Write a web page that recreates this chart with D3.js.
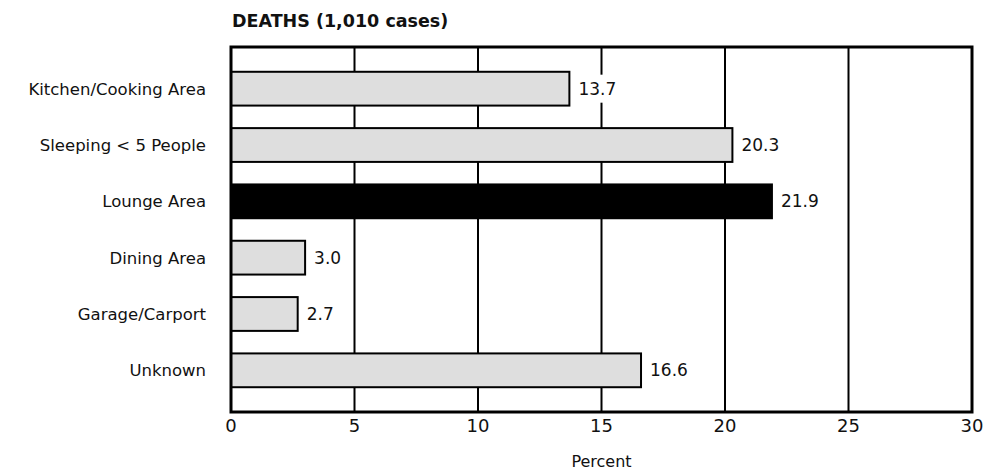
<!DOCTYPE html>
<html>
<head>
<meta charset="utf-8">
<script src="https://cdn.jsdelivr.net/npm/d3@7"></script>
<style>
  body { margin: 0; background: #fff; }
  text { font-family: "DejaVu Sans", sans-serif; fill: #111; }
</style>
</head>
<body>
<div id="bar"></div>
<script>
// Data
const categories = ["Kitchen/Cooking Area", "Sleeping < 5 People", "Lounge Area", "Dining Area", "Garage/Carport", "Unknown"];
const values = [13.7, 20.3, 21.9, 3.0, 2.7, 16.6];
const highlight = "Lounge Area";
const xTicks = [0, 5, 10, 15, 20, 25, 30];
const title = "DEATHS (1,010 cases)";
const xLabel = "Percent";

const data = categories.map((c, i) => ({category: c, value: values[i]}));

const width = 989, height = 475;
const margins = {top: 47, right: 17, bottom: 63, left: 231};

const svg = d3.select("#bar")
  .append("svg")
  .attr("width", width)
  .attr("height", height)
  .attr("viewBox", [0, 0, width, height]);

const xScale = d3.scaleLinear()
  .domain([0, 30])
  .range([margins.left, width - margins.right]);

const yScale = d3.scaleBand()
  .domain(categories)
  .range([margins.top, height - margins.bottom])
  .paddingInner(0.4)
  .paddingOuter(0.44);

// vertical grid lines
svg.append("g")
  .selectAll("line")
  .data(xTicks.slice(1, -1))
  .join("line")
    .attr("x1", d => xScale(d))
    .attr("x2", d => xScale(d))
    .attr("y1", margins.top)
    .attr("y2", height - margins.bottom)
    .attr("stroke", "#000")
    .attr("stroke-width", 2);

// bars
svg.append("g")
  .selectAll("rect")
  .data(data)
  .join("rect")
    .attr("x", xScale(0))
    .attr("y", d => yScale(d.category))
    .attr("width", d => xScale(d.value) - xScale(0))
    .attr("height", yScale.bandwidth())
    .attr("fill", d => d.category === highlight ? "#000" : "#dedede")
    .attr("stroke", "#000")
    .attr("stroke-width", 2);

// value labels with white backing sized to the text
const labels = svg.append("g")
  .selectAll("g")
  .data(data)
  .join("g")
    .attr("transform", d => `translate(${xScale(d.value) + 9},${yScale(d.category) + yScale.bandwidth() / 2})`);

const bg = labels.append("rect")
  .attr("fill", "#fff");

labels.append("text")
  .attr("dy", "0.36em")
  .style("font-size", "17px")
  .text(d => d.value.toFixed(1));

bg.each(function() {
  const b = this.parentNode.querySelector("text").getBBox();
  d3.select(this)
    .attr("x", b.x - 2)
    .attr("y", -14)
    .attr("width", b.width + 4)
    .attr("height", 28);
});

// frame
svg.append("rect")
  .attr("x", margins.left)
  .attr("y", margins.top)
  .attr("width", width - margins.right - margins.left)
  .attr("height", height - margins.bottom - margins.top)
  .attr("fill", "none")
  .attr("stroke", "#000")
  .attr("stroke-width", 3);

// category labels
svg.append("g")
  .selectAll("text")
  .data(categories)
  .join("text")
    .attr("x", 206)
    .attr("y", d => yScale(d) + yScale.bandwidth() / 2)
    .attr("dy", "0.36em")
    .attr("text-anchor", "end")
    .style("font-size", "16.5px")
    .text(d => d);

// x tick labels
svg.append("g")
  .selectAll("text")
  .data(xTicks)
  .join("text")
    .attr("x", d => xScale(d))
    .attr("y", 432)
    .attr("text-anchor", "middle")
    .style("font-size", "18px")
    .text(d => d);

svg.append("text")
  .attr("x", xScale(15))
  .attr("y", 467)
  .attr("text-anchor", "middle")
  .style("font-size", "16px")
  .text(xLabel);

svg.append("text")
  .attr("x", 232)
  .attr("y", 27)
  .style("font-size", "17.5px")
  .style("font-weight", "bold")
  .text(title);
</script>
</body>
</html>
